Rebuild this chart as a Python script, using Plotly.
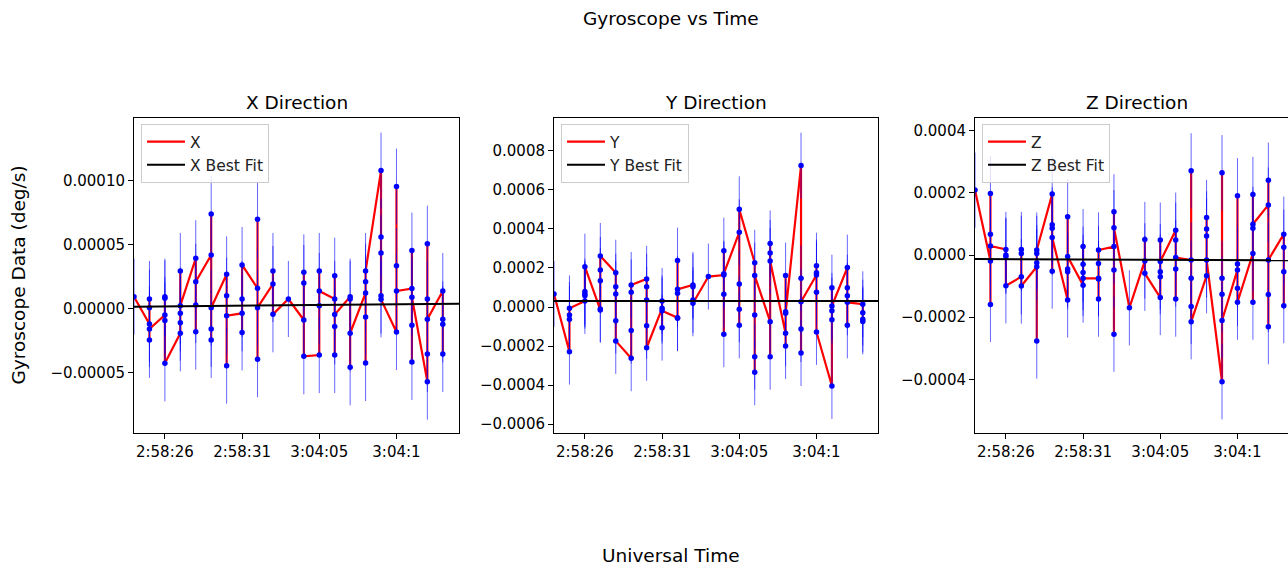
import plotly.graph_objects as go

# ---------------- data ----------------
# x categories are one-second time bins; only some carry tick labels
tick_idx = [2, 7, 12, 17]
tick_labels = ["2:58:26", "2:58:31", "3:04:05", "3:04:1"]

# gyroscope samples per time bin, in path order (X in 1e-5 deg/s, Y/Z in 1e-4 deg/s)
gyro_x_1e5 = [
    [0.91],
    [-1.22, 0.73, 0.05, -2.47, -1.61],
    [-0.52, 0.91, 0.78, -0.96, -4.30],
    [-1.95, 2.92, -0.39, -1.12, 0.21],
    [3.91, 0.26, -1.82, 2.08],
    [4.17, 7.37, -1.61, -2.47, 0.05],
    [2.66, 0.99, -4.48, -0.57],
    [-0.39, 0.73, -1.88, 3.39],
    [1.56, 6.95, -3.98, 0.05],
    [1.90, 2.92, -0.47],
    [0.73],
    [-0.91, 2.81, 1.98, -3.75],
    [-3.65, 2.92, 0.21, 1.35],
    [0.73, 2.55, -1.41, -3.65, -0.49],
    [0.91, 0.73, -4.61, -1.95],
    [1.20, -0.68, -4.27, 2.08, 2.92],
    [10.76, 5.57, 4.32, 0.99, 0.70],
    [-1.85, 9.51, 3.33, 1.35],
    [1.54, 4.51, -1.33, -4.19, 0.86],
    [-5.73, 5.05, 0.73, -3.57, -0.86],
    [1.35, -0.86, -1.25, -3.57],
]
gyro_y_1e4 = [
    [0.67],
    [-2.29, -0.41, -0.63, -0.07],
    [0.31, 0.67, 0.58, 0.79, 2.07],
    [-0.15, -0.10, 1.35, 1.90, 2.62],
    [1.76, 1.04, 0.67, -0.70, -1.74],
    [-2.63, -1.21, 0.75, 1.13],
    [1.44, 1.04, 0.36, -0.96, -2.09],
    [-0.07, -1.06, 0.31, -0.19],
    [-0.55, -0.58, 2.38, 0.70, 0.91],
    [1.13, 1.04, 0.36, 0.19],
    [1.56],
    [1.64, 2.89, -1.40, 0.65, 1.71],
    [3.83, 1.18, -0.12, -0.94, 5.01],
    [2.27, -3.35, -2.55, -0.41, 1.61],
    [-0.75, -2.55, 3.26, 2.77, 2.36],
    [-1.35, -2.00, 1.61, -0.24, -0.32],
    [7.25, 1.47, -1.13, -2.36, 0.27],
    [1.64, 2.12, 1.76, 0.75, -1.28],
    [-4.05, 0.99, -0.19, -0.65, 0.05],
    [2.02, 0.99, 0.58, -0.94, 0.24],
    [0.14, -0.29, -0.63, -0.74],
]
gyro_z_1e4 = [
    [2.09],
    [-0.19, -1.59, 1.98, 0.67, 0.29],
    [0.18, 0.00, -0.05, -0.99],
    [-0.70, 0.18, 0.05, -1.00],
    [-0.38, -2.77, -0.25, 0.05, 0.16],
    [1.96, 0.97, 0.86, -0.52, 0.56],
    [-1.45, 1.23, -0.45, -0.54, -0.05],
    [-0.97, 0.27, -0.30, -0.56, -0.75],
    [-0.75, -0.27, -1.42, -0.77, 0.16],
    [0.27, -0.48, -2.55, 1.39, 0.88],
    [-1.70],
    [-0.19, 0.50, -0.59],
    [-1.37, -0.54, -0.70, 0.48, -0.21],
    [0.80, -1.42, -0.45, 0.48, -0.08],
    [-0.16, 2.71, -1.66, -0.75, -2.15],
    [-0.67, 1.21, 0.84, 0.61, -0.16],
    [-4.08, 2.65, -0.75, -1.26, -2.11],
    [-0.48, 1.91, -0.29, -1.07, -1.52],
    [0.05, 1.95, -1.52, 0.86, 0.99],
    [1.61, 2.41, -1.27, -2.31, -0.16],
    [0.67, 0.25, -0.54, -1.63],
]
scales = [1e-5, 1e-4, 1e-4]
errors = [2.97e-5, 1.69e-4, 1.21e-4]          # constant error bar half-widths
fit_intercepts = [0.13e-5, 0.31e-4, -0.13e-4]  # best-fit line at first bin
fit_slopes = [0.011e-5, 0.0, -0.002e-4]        # per time bin

labels = ["X", "Y", "Z"]
titles = ["X Direction", "Y Direction", "Z Direction"]

# y ticks per panel
ytick_vals = [
    [-5e-5, 0, 5e-5, 1e-4],
    [-6e-4, -4e-4, -2e-4, 0, 2e-4, 4e-4, 6e-4, 8e-4],
    [-4e-4, -2e-4, 0, 2e-4, 4e-4],
]
ytick_text = [
    ["\u22120.00005", "0.00000", "0.00005", "0.00010"],
    ["\u22120.0006", "\u22120.0004", "\u22120.0002", "0.0000", "0.0002", "0.0004", "0.0006", "0.0008"],
    ["\u22120.0004", "\u22120.0002", "0.0000", "0.0002", "0.0004"],
]
y_ranges = [[-9.74e-5, 14.87e-5], [-6.46e-4, 9.69e-4], [-5.73e-4, 4.41e-4]]

# ---------------- layout geometry ----------------
W, H = 1288, 566
FONT = "DejaVu Sans"
panel_px = [(134, 459), (554, 878), (975, 1299)]
top_px, bot_px = 118, 433
bin_px = 325 / 21.05
x_ranges = []
x_domains = []
for (l, r) in panel_px:
    rr = min(r, W)
    x_domains.append([l / W, rr / W])
    x_ranges.append([0, (rr - l) / bin_px])
y_domain = [1 - bot_px / H, 1 - top_px / H]

fig = go.Figure()
datasets = [gyro_x_1e5, gyro_y_1e4, gyro_z_1e4]
legend_names = ["legend", "legend2", "legend3"]

for k in range(3):
    data = datasets[k]
    xs = [i for i, c in enumerate(data) for _ in c]
    ys = [v * scales[k] for c in data for v in c]
    xa = "x" if k == 0 else f"x{k+1}"
    ya = "y" if k == 0 else f"y{k+1}"
    fig.add_trace(go.Scatter(
        x=xs, y=ys, mode="lines", name=labels[k],
        line=dict(color="#ff0000", width=2.2),
        xaxis=xa, yaxis=ya, legend=legend_names[k], showlegend=True,
    ))
    fig.add_trace(go.Scatter(
        x=xs, y=ys, mode="markers", showlegend=False,
        marker=dict(color="#0000ff", size=5.5, line=dict(width=0)),
        error_y=dict(type="constant", value=errors[k], color="rgba(0,0,255,0.6)",
                     thickness=1, width=0),
        xaxis=xa, yaxis=ya,
    ))
    x_end = x_ranges[k][1]
    fig.add_trace(go.Scatter(
        x=[0, x_end],
        y=[fit_intercepts[k], fit_intercepts[k] + fit_slopes[k] * x_end],
        mode="lines", name=f"{labels[k]} Best Fit",
        line=dict(color="#000000", width=2),
        xaxis=xa, yaxis=ya, legend=legend_names[k], showlegend=True,
    ))

axis_common = dict(
    showgrid=False, zeroline=False, showline=True, linecolor="black", linewidth=1,
    ticks="outside", ticklen=5, tickwidth=1, tickcolor="black",
    tickfont=dict(family=FONT, size=15, color="black"),
)

layout = dict(
    width=W, height=H, margin=dict(l=0, r=0, t=0, b=0),
    paper_bgcolor="white", plot_bgcolor="white",
    font=dict(family=FONT, color="black"),
    showlegend=True,
)
for k in range(3):
    xk = "xaxis" if k == 0 else f"xaxis{k+1}"
    yk = "yaxis" if k == 0 else f"yaxis{k+1}"
    layout[xk] = dict(axis_common, domain=x_domains[k], range=x_ranges[k],
                      tickmode="array", tickvals=tick_idx, ticktext=tick_labels,
                      mirror=True, anchor="y" if k == 0 else f"y{k+1}")
    layout[yk] = dict(axis_common, domain=y_domain, range=y_ranges[k],
                      tickmode="array", tickvals=ytick_vals[k], ticktext=ytick_text[k],
                      mirror=(k < 2), anchor="x" if k == 0 else f"x{k+1}")
    layout[legend_names[k]] = dict(
        x=(panel_px[k][0] + 7) / W, y=1 - 124 / H, xanchor="left", yanchor="top",
        bgcolor="rgba(255,255,255,0.8)", bordercolor="#cccccc", borderwidth=1,
        font=dict(family=FONT, size=15.5, color="#222222"), tracegroupgap=0,
        itemwidth=38,
    )

annotations = [
    dict(text="Gyroscope vs Time", x=671 / W, y=1 - 18 / H, xref="paper", yref="paper",
         showarrow=False, xanchor="center", yanchor="middle",
         font=dict(family=FONT, size=18.5, color="black")),
    dict(text="Universal Time", x=671 / W, y=1 - 555 / H, xref="paper", yref="paper",
         showarrow=False, xanchor="center", yanchor="middle",
         font=dict(family=FONT, size=18.5, color="black")),
    dict(text="Gyroscope Data (deg/s)", x=18 / W, y=1 - 275.5 / H, xref="paper", yref="paper",
         showarrow=False, xanchor="center", yanchor="middle", textangle=-90,
         font=dict(family=FONT, size=18.5, color="black")),
]
for k in range(3):
    cx = (panel_px[k][0] + panel_px[k][1]) / 2
    annotations.append(dict(
        text=titles[k], x=cx / W, y=1 - 103 / H, xref="paper", yref="paper",
        showarrow=False, xanchor="center", yanchor="middle",
        font=dict(family=FONT, size=18.5, color="black")))
layout["annotations"] = annotations

fig.update_layout(**layout)
fig.write_html("out.html", config={"displayModeBar": False})
